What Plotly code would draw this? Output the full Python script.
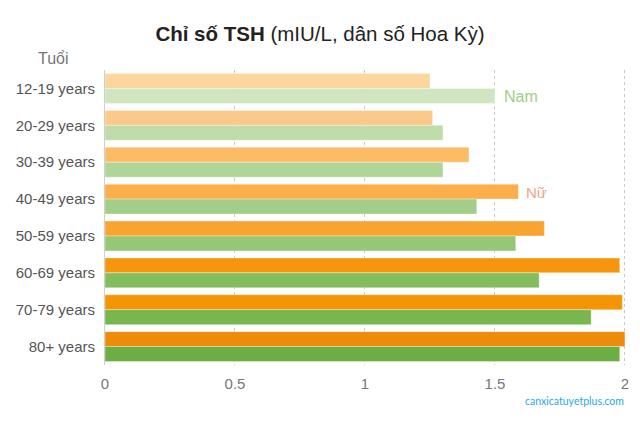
import plotly.graph_objects as go

categories = ["12-19 years", "20-29 years", "30-39 years", "40-49 years",
              "50-59 years", "60-69 years", "70-79 years", "80+ years"]
female = [1.25, 1.26, 1.40, 1.59, 1.69, 1.98, 1.99, 2.00]
male = [1.50, 1.30, 1.30, 1.43, 1.58, 1.67, 1.87, 1.98]
x_ticks = [0, 0.5, 1, 1.5, 2]
x_tick_labels = ["0", "0.5", "1", "1.5", "2"]

female_colors = ["#FDD69E", "#FDC98A", "#FDBB64", "#FBAE4A", "#F9A431",
                 "#F7960E", "#F59503", "#EC8C0A"]
male_colors = ["#CFE6C0", "#BFDDA8", "#AFD598", "#A2CE88", "#96C774",
               "#84BE5C", "#78B64E", "#6CAD44"]

fig = go.Figure()
fig.add_trace(go.Bar(y=categories, x=female, orientation="h", name="Nữ",
                     marker=dict(color=female_colors,
                                 line=dict(color="rgba(255,255,255,0.35)", width=1))))
fig.add_trace(go.Bar(y=categories, x=male, orientation="h", name="Nam",
                     marker=dict(color=male_colors,
                                 line=dict(color="rgba(255,255,255,0.35)", width=1))))

fig.update_layout(
    width=640, height=427,
    margin=dict(l=105, r=11, t=70, b=62),
    barmode="group", bargap=0.19, bargroupgap=0,
    showlegend=False,
    plot_bgcolor="white", paper_bgcolor="white",
    font=dict(family="Liberation Sans, Arial, sans-serif", color="#555"),
    title=dict(text="<b>Chỉ số TSH</b> (mIU/L, dân số Hoa Kỳ)",
               x=0.5, xanchor="center", y=0.92, yanchor="middle",
               font=dict(size=20.5, color="#222")),
)
fig.update_xaxes(range=[0, 2.004], tickvals=x_ticks, ticktext=x_tick_labels,
                 showgrid=True, gridcolor="#c8c8c8", griddash="dot", gridwidth=1,
                 zeroline=False, showline=False,
                 tickfont=dict(size=15, color="#777"), ticks="", ticklen=0,
                 ticklabelstandoff=8)
fig.update_yaxes(autorange="reversed", showline=True, linecolor="#cfcfcf", linewidth=1,
                 ticks="", tickfont=dict(size=15, color="#555"), ticklabelstandoff=6)

fig.add_annotation(text="Tuổi", xref="paper", yref="paper", x=-0.099, y=1.005,
                   xanchor="center", yanchor="bottom", showarrow=False,
                   font=dict(size=16, color="#777"))
fig.add_annotation(text="Nam", x=male[0], y=categories[0], xanchor="left",
                   yanchor="middle", xshift=7, yshift=-8, showarrow=False,
                   font=dict(size=16, color="#9ECF85"))
fig.add_annotation(text="Nữ", x=female[3], y=categories[3], xanchor="left",
                   yanchor="middle", xshift=6, yshift=7, showarrow=False,
                   font=dict(size=15, color="#F0A585"))
fig.add_annotation(text="canxicatuyetplus.com", xref="paper", yref="paper",
                   x=1.0, y=-0.095, xanchor="right", yanchor="top", showarrow=False,
                   font=dict(family="Lato, sans-serif", size=10.5, color="#29A9E8"))

fig.write_html("out.html")
